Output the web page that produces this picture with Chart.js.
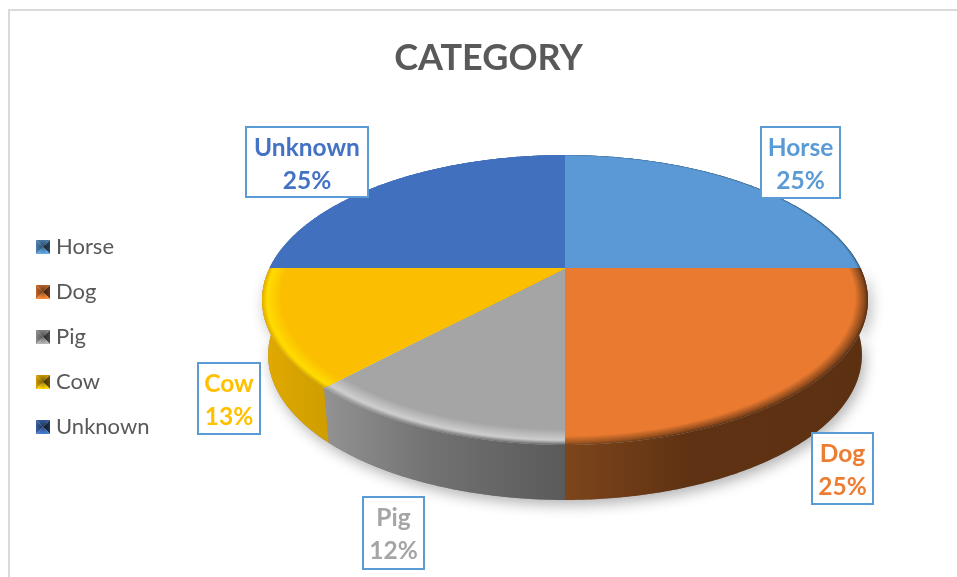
<!DOCTYPE html>
<html><head><meta charset="utf-8">
<style>html,body{margin:0;padding:0;background:#fff}canvas{display:block}</style>
<script src="https://cdn.jsdelivr.net/npm/chart.js@4"></script>
</head><body><canvas id="c" width="957" height="577"></canvas>
<script>
const categories = ['Horse','Dog','Pig','Cow','Unknown'];
const shares = [25,25,12,13,25];
const sliceColors = ['#5a99d5','#e97a30','#a5a5a5','#fbbe00','#4170bf'];
const labelColors = ['#5b9bd5','#ed7d31','#a5a5a5','#ffc000','#4472c4'];

// perspective of the pie disc on the page
const CX=565, AY=268, KP=0.2207, BP=137.9, CP=295.5, DEPTH=55, NARROW=0.98;
function proj(r,t){
  const ux=Math.cos(t), uy=-Math.sin(t), w=1+KP*r*uy;
  return [CX+CP*r*ux/w, AY-BP*r*uy/w];
}
function sector(ctx,r,a,b){
  ctx.beginPath(); ctx.moveTo(CX,AY);
  const n=Math.max(4,Math.ceil((b-a)/0.01));
  for(let i=0;i<=n;i++){const p=proj(r,a+(b-a)*i/n);ctx.lineTo(p[0],p[1]);}
  ctx.closePath();
}
function wall(ctx,a,b){
  const n=Math.max(4,Math.ceil((b-a)/0.01)),top=[],bot=[];
  for(let i=0;i<=n;i++){const p=proj(1,a+(b-a)*i/n);top.push(p);bot.push([CX+(p[0]-CX)*NARROW,p[1]+DEPTH]);}
  ctx.beginPath();
  top.forEach((p,i)=>i?ctx.lineTo(p[0],p[1]):ctx.moveTo(p[0],p[1]));
  bot.reverse().forEach(p=>ctx.lineTo(p[0],p[1]));
  ctx.closePath();
}
const wallStops=[
  [[565,'#3a6a94'],[870,'#2c4f6c']],
  [[565,'#7d451b'],[690,'#5f3213'],[860,'#5c3112']],
  [[325,'#929292'],[430,'#727272'],[565,'#5a5a5a']],
  [[262,'#e2aa00'],[328,'#cf9d00']],
  [[262,'#2f5597'],[565,'#2f5597']]
];
// radius, colour, share of the wall shade mixed into the colour
const bevelStops=[
  [[1,'#5a99d5',0.7],[0.99,'#5a99d5',0]],
  [[1,'#e97a30',1],[0.992,'#e97a30',0.7],[0.96,'#e97a30',0]],
  [[1,'#d2d2d2',0.9],[0.98,'#d2d2d2',0.05],[0.93,'#a5a5a5',0]],
  [[1,'#ffdc00',0.9],[0.985,'#ffdc00',0],[0.94,'#fbbe00',0]],
  [[1,'#4170bf',0],[0.99,'#4170bf',0]]
];
function hex(c){return [1,3,5].map(i=>parseInt(c.substr(i,2),16));}
function mix(a,b,f){return a.map((v,j)=>v+(b[j]-v)*f);}
function css(a){return 'rgb('+a.map(Math.round).join(',')+')';}
function bevelAt(st,r){
  for(let i=0;i<st.length-1;i++){
    if(r<=st[i][0]&&r>=st[i+1][0]){
      const f=(st[i][0]-r)/(st[i][0]-st[i+1][0]);
      return [mix(hex(st[i][1]),hex(st[i+1][1]),f), st[i][2]+(st[i+1][2]-st[i][2])*f];
    }
  }
  const l=st[st.length-1];return [hex(l[1]),l[2]];
}
function marker(color){
  const s=14,cv=document.createElement('canvas');cv.width=s;cv.height=s;
  const g=cv.getContext('2d'),[r,gr,b]=hex(color);
  const shade=f=>`rgb(${Math.min(255,r*f)|0},${Math.min(255,gr*f)|0},${Math.min(255,b*f)|0})`;
  const tri=(pts,f)=>{g.fillStyle=shade(f);g.beginPath();pts.forEach((p,i)=>i?g.lineTo(p[0],p[1]):g.moveTo(p[0],p[1]));g.closePath();g.fill();};
  const m=s/2;
  tri([[0,0],[s,0],[m,m]],0.78);
  tri([[s,0],[s,s],[m,m]],0.42);
  tri([[s,s],[0,s],[m,m]],1.12);
  tri([[0,s],[0,0],[m,m]],0.82);
  const rg=g.createRadialGradient(m,m,0,m,m,m);
  rg.addColorStop(0,'rgba(0,0,0,0.4)');rg.addColorStop(1,'rgba(0,0,0,0)');
  g.fillStyle=rg;g.fillRect(0,0,s,s);
  return cv;
}
const boxes=[[760,126,81,73],[811,432,63,73],[362,496,63,74],[197,362,64,73],[245,126,124,72]];

const pie3d={
  id:'pie3d',
  beforeDraw(ch){
    const x=ch.ctx;x.save();x.fillStyle='#d9d9d9';
    x.fillRect(8,9,949,2);x.fillRect(8,9,2,568);x.restore();
  },
  afterLayout(ch){
    ch.titleBlock.left=20;
    const l=ch.legend;
    const w=l.width,h=l.height;
    l.left=LEG.x;l.right=LEG.x+w;l.top=LEG.y;l.bottom=LEG.y+h;
  },
  beforeDatasetDraw(){return false;},
  afterDatasetsDraw(ch){
    const ctx=ch.ctx,arcs=ch.getDatasetMeta(0).data;
    ctx.save();
    // soft cast shadow
    ctx.save();ctx.shadowColor='rgba(0,0,0,0.3)';ctx.shadowBlur=14;ctx.shadowOffsetY=5;ctx.shadowOffsetX=3;
    ctx.fillStyle='#888';wall(ctx,0,Math.PI);ctx.fill();ctx.restore();
    // side walls
    arcs.forEach((a,i)=>{
      const w=wallStops[i],x0=w[0][0],x1=w[w.length-1][0];
      const g=ctx.createLinearGradient(x0,0,x1,0);
      w.forEach(st=>g.addColorStop((st[0]-x0)/(x1-x0),st[1]));
      ctx.fillStyle=g;wall(ctx,a.startAngle,a.endAngle);ctx.fill();
    });
    // top faces with a soft bevelled rim that melts into the wall shade
    arcs.forEach((a,i)=>{
      const st=bevelStops[i],rMin=st[st.length-1][0],w=wallStops[i],x0=w[0][0],x1=w[w.length-1][0];
      for(let r=1;r>rMin;r-=0.002){
        const [col,m]=bevelAt(st,r);
        const g=ctx.createLinearGradient(x0,0,x1,0);
        w.forEach(s=>g.addColorStop((s[0]-x0)/(x1-x0),css(mix(col,hex(s[1]),m))));
        ctx.fillStyle=g;sector(ctx,r,a.startAngle,a.endAngle);ctx.fill();
      }
      ctx.fillStyle=sliceColors[i];sector(ctx,rMin,a.startAngle,a.endAngle);ctx.fill();
    });
    ctx.restore();
  },
  afterDraw(ch){
    const ctx=ch.ctx,total=shares.reduce((a,b)=>a+b,0);
    ctx.save();
    ctx.font='bold 24.5px Lato';ctx.textAlign='center';ctx.textBaseline='middle';
    categories.forEach((c,i)=>{
      const [x,y,w,h]=boxes[i];
      ctx.fillStyle='#fff';ctx.fillRect(x,y,w,h);
      ctx.strokeStyle='#5b9bd5';ctx.lineWidth=2;ctx.strokeRect(x+1,y+1,w-2,h-2);
      ctx.fillStyle=labelColors[i];
      ctx.fillText(c,x+w/2,y+22);
      ctx.fillText(Math.round(shares[i]/total*100)+'%',x+w/2,y+55);
    });
    ctx.restore();
  }
};
const LEG={x:18,y:213};
new Chart(document.getElementById('c'),{
  type:'pie',
  data:{labels:categories,datasets:[{data:shares,backgroundColor:sliceColors,borderWidth:0}]},
  plugins:[pie3d],
  options:{
    responsive:false,animation:false,
    plugins:{
      tooltip:{enabled:false},
      title:{display:true,text:'CATEGORY',color:'#595959',font:{family:'Lato',size:36,weight:'bold'},padding:{top:37,bottom:10}},
      legend:{display:true,position:'left',align:'start',
        labels:{
          color:'#595959',font:{family:'Lato',size:22},usePointStyle:true,boxWidth:4,padding:23,
          generateLabels(){
            return categories.map((c,i)=>({text:c,fillStyle:sliceColors[i],strokeStyle:sliceColors[i],lineWidth:0,pointStyle:marker(sliceColors[i]),index:i,hidden:false,fontColor:'#595959'}));
          }
        }
      }
    }
  }
});
</script></body></html>
